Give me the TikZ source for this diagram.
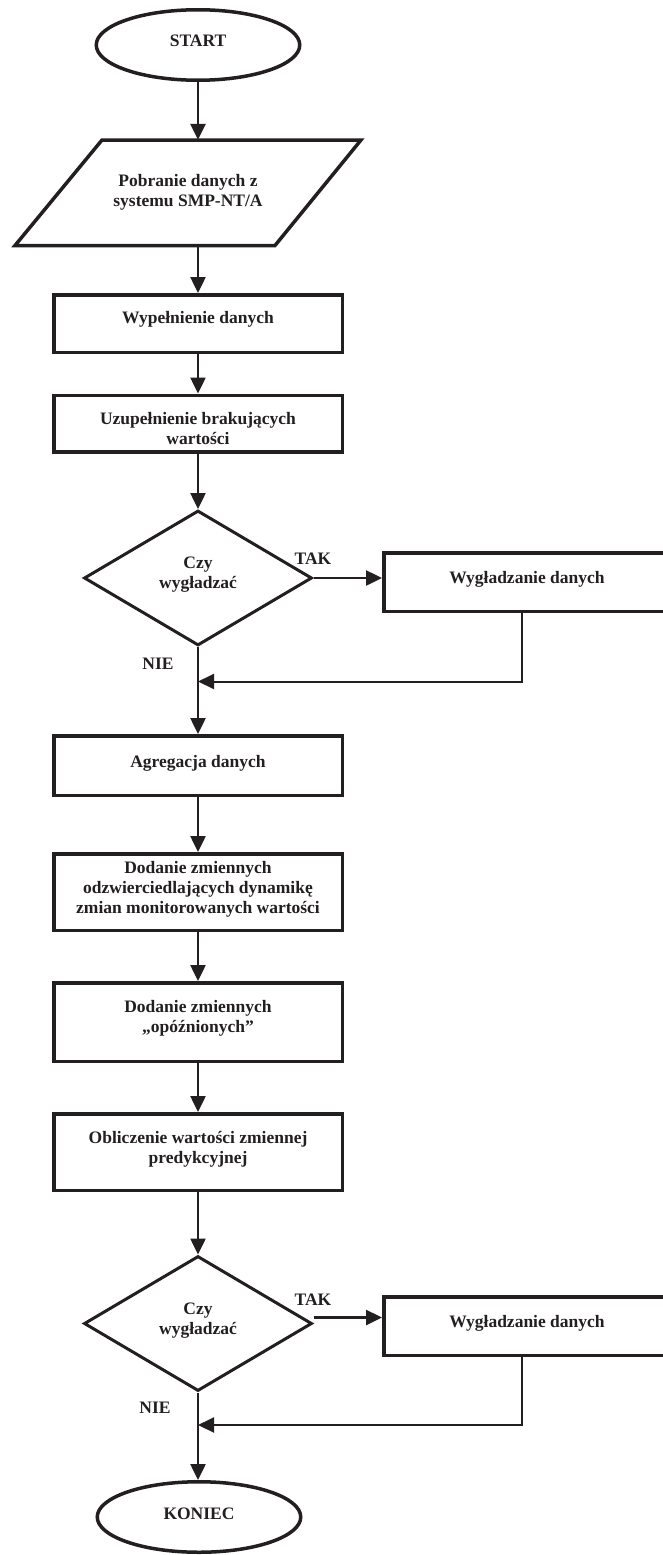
\documentclass[tikz,border=0pt]{standalone}
\usepackage{fontspec}
\setmainfont{Liberation Serif}
\usetikzlibrary{shapes.geometric,arrows.meta,calc}
\definecolor{ink}{RGB}{35,31,32}
\newcommand{\mytxt}[2][3pt]{\raisebox{#1}[\height][\depth]{\begin{tabular}{@{}c@{}}#2\end{tabular}}}
\begin{document}
\begin{tikzpicture}[x=1pt,y=-1pt,
  every node/.style={font=\fontsize{17.5}{20}\selectfont\bfseries, text=ink, inner sep=0pt},
  terminal/.style={ellipse, draw=ink, line width=3.5pt, minimum width=203.5pt, minimum height=70.5pt},
  procbox/.style={rectangle, draw=ink, line width=3.5pt, minimum width=288.5pt, minimum height=#1},
  decision/.style={diamond, draw=ink, line width=3pt, minimum width=228pt, minimum height=135pt},
  outline/.style={draw=ink, line width=3.5pt, line join=miter},
  conn/.style={draw=ink, line width=2.5pt, -{Triangle[length=16pt,width=15pt]}},
  fb/.style={draw=ink, line width=2pt, -{Triangle[length=16pt,width=15pt]}},
  lab/.style={}
]
\useasboundingbox (0,0) rectangle (663,1555);

% nodes
\node[terminal] (start) at (198,45) {\mytxt[2pt]{START}};
\node[minimum width=260pt, minimum height=105.5pt] (in) at (188,192.75) {\mytxt[0pt]{Pobranie danych z\\systemu SMP-NT/A}};
\draw[outline] (102,140) -- (361,140) -- (275,245.5) -- (15,245.5) -- cycle;

\node[procbox=57.5pt] (wyp) at (198,323.5) {\mytxt[4.5pt]{Wypełnienie danych}};
\node[procbox=56.5pt] (uzu) at (198,423.5) {\mytxt[-7pt]{Uzupełnienie brakujących\\wartości}};
\node[decision] (d1) at (198,578) {\mytxt[3.5pt]{Czy\\wygładzać}};
\node[procbox=58.5pt, minimum width=286.5pt] (wyg1) at (527,582) {\mytxt{Wygładzanie danych}};
\node[lab] (tak1) at (313,558.5) {TAK};
\node[lab] (nie1) at (158,664) {NIE};
\coordinate (j1) at (198,681.5);

\node[procbox=59.5pt] (agr) at (198,765.5) {\mytxt[2.2pt]{Agregacja danych}};
\node[procbox=76.5pt] (dod1) at (198,892) {\mytxt{Dodanie zmiennych\\odzwierciedlających dynamikę\\zmian monitorowanych wartości}};
\node[procbox=78.5pt] (dod2) at (198,1022) {\mytxt[3.5pt]{Dodanie zmiennych\\„opóźnionych”}};
\node[procbox=76.5pt] (obl) at (198,1152) {\mytxt{Obliczenie wartości zmiennej\\predykcyjnej}};
\node[decision] (d2) at (198,1323.5) {\mytxt[3.5pt]{Czy\\wygładzać}};
\node[procbox=58.5pt, minimum width=286.5pt] (wyg2) at (527,1326) {\mytxt{Wygładzanie danych}};
\node[lab] (tak2) at (313,1300) {TAK};
\node[lab] (nie2) at (155,1407.5) {NIE};
\coordinate (j2) at (198,1425);
\node[terminal] (koniec) at (199,1517) {\mytxt[2pt]{KONIEC}};

% connectors
\draw[conn] (start.south) -- (start.south |- in.north);
\draw[conn] (wyp.north |- in.south) -- (wyp.north);
\draw[conn] (wyp.south) -- (uzu.north);
\draw[conn] (uzu.south) -- (d1.north);
\draw[conn] (d1.east) -- (d1.east -| wyg1.west);
\draw[fb] ([xshift=-5pt]wyg1.south) |- (j1);
\draw[conn] (d1.south) -- (agr.north);
\draw[conn] (agr.south) -- (dod1.north);
\draw[conn] (dod1.south) -- (dod2.north);
\draw[conn] (dod2.south) -- (obl.north);
\draw[conn] (obl.south) -- (d2.north);
\draw[conn] ([yshift=6pt]d2.east) -- ([yshift=6pt]d2.east -| wyg2.west);
\draw[fb] ([xshift=-5pt]wyg2.south) |- (j2);
\draw[conn] (d2.south) -- (d2.south |- koniec.north);
\end{tikzpicture}
\end{document}
